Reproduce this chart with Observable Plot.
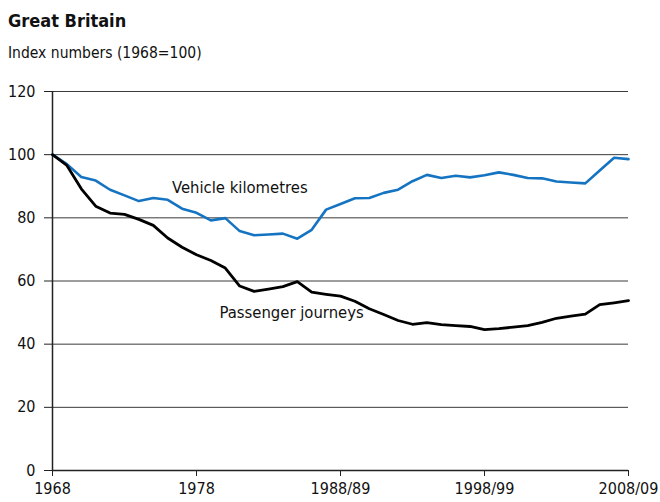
<!DOCTYPE html>
<html>
<head>
<meta charset="utf-8">
<script src="https://cdn.jsdelivr.net/npm/d3@7"></script>
<script src="https://cdn.jsdelivr.net/npm/@observablehq/plot@0.6"></script>
<style>
  html, body { margin: 0; padding: 0; background: #fff; }
  body { width: 660px; height: 502px; position: relative; overflow: hidden;
         font-family: "Liberation Sans Narrow", "DejaVu Sans Condensed", sans-serif; color: #111; }
  #title { position: absolute; left: 8px; top: 10px; font-size: 18px; font-weight: bold; }
  #subtitle { position: absolute; left: 8px; top: 44px; font-size: 15.5px; }
  #chart { position: absolute; left: 0; top: 70px; }
</style>
</head>
<body>
<div id="title">Great Britain</div>
<div id="subtitle">Index numbers (1968=100)</div>
<div id="chart"></div>
<script>
const years = d3.range(1968, 2009);
const vehicleKm = [100, 97, 92.9, 91.8, 88.9, 87.1, 85.3, 86.3, 85.7, 82.9, 81.6, 79.2, 79.9,
  75.8, 74.5, 74.7, 75.0, 73.4, 76.2, 82.6, 84.4, 86.2, 86.3, 87.9, 88.9, 91.6,
  93.6, 92.6, 93.3, 92.8, 93.5, 94.4, 93.6, 92.6, 92.5, 91.5, 91.2, 90.9, 95.0, 99.0, 98.6];
const passengerJourneys = [100, 96.6, 89.2, 83.7, 81.5, 81.1, 79.5, 77.6, 73.6, 70.7, 68.3, 66.5, 64.1,
  58.4, 56.7, 57.4, 58.2, 59.8, 56.5, 55.8, 55.2, 53.6, 51.2, 49.4, 47.5, 46.3,
  46.8, 46.2, 45.9, 45.6, 44.6, 44.9, 45.4, 45.9, 46.9, 48.2, 48.9, 49.5, 52.5, 53.1, 53.8];
const xTicks = [1968, 1978, 1988, 1998, 2008];
const xTickLabels = ["1968", "1978", "1988/89", "1998/99", "2008/09"];
const yTicks = [0, 20, 40, 60, 80, 100, 120];
const seriesLabels = ["Vehicle kilometres", "Passenger journeys"];
const labelYears = [1976.3, 1979.6];
const labelValues = [89.4, 49.8];

const vk = years.map((y, i) => ({year: y, value: vehicleKm[i]}));
const pj = years.map((y, i) => ({year: y, value: passengerJourneys[i]}));
const labels = seriesLabels.map((t, i) => ({text: t, year: labelYears[i], value: labelValues[i]}));
const tickLabel = new Map(xTicks.map((t, i) => [t, xTickLabels[i]]));

const chart = Plot.plot({
  width: 660,
  height: 432,
  marginTop: 21,
  marginBottom: 32,
  marginLeft: 52,
  marginRight: 32,
  style: {fontFamily: '"Liberation Sans Narrow", "DejaVu Sans Condensed", sans-serif', fontSize: "16px", color: "#111", background: "#fff"},
  x: {domain: [1968, 2008], label: null},
  y: {domain: [0, 120], label: null},
  marks: [
    Plot.gridY(yTicks, {stroke: "#3a3a3a", strokeOpacity: 1, strokeWidth: 1}),
    Plot.axisX({ticks: xTicks, tickFormat: d => tickLabel.get(d), tickSize: 6, tickPadding: 6, label: null, stroke: "#222", fontSize: 16}),
    Plot.axisY({ticks: yTicks, tickSize: 8, tickPadding: 9, label: null, stroke: "#222", fontSize: 16}),
    Plot.ruleX([1968], {stroke: "#222", strokeWidth: 1.5}),
    Plot.ruleY([0], {stroke: "#222", strokeWidth: 1.5}),
    Plot.line(vk, {x: "year", y: "value", stroke: "#1574c2", strokeWidth: 2.6}),
    Plot.line(pj, {x: "year", y: "value", stroke: "#000", strokeWidth: 2.8}),
    Plot.text(labels, {x: "year", y: "value", text: "text", textAnchor: "start", fontSize: 16.5, fill: "#111"})
  ]
});
document.getElementById("chart").appendChild(chart);
</script>
</body>
</html>
